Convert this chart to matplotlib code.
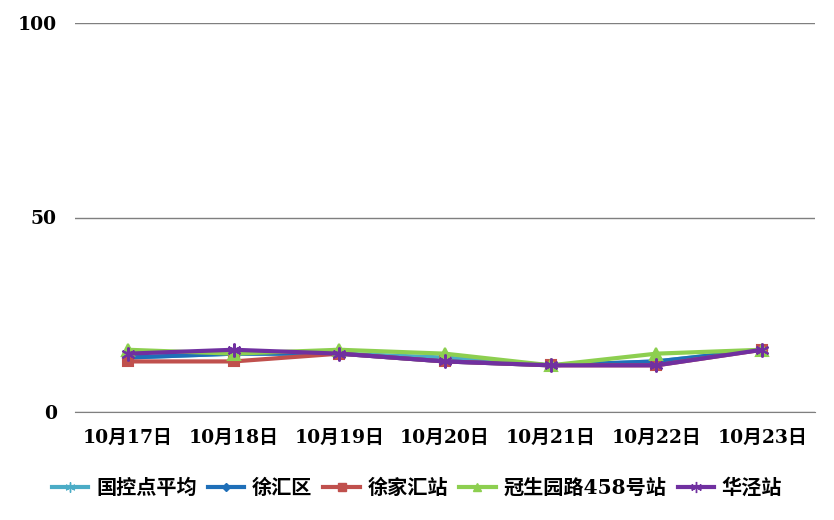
import matplotlib
matplotlib.use("Agg")
import matplotlib.pyplot as plt
from matplotlib.lines import Line2D

plt.rcParams['font.family'] = ['DejaVu Serif', 'Noto Sans CJK SC']
plt.rcParams['font.weight'] = 'bold'

dates = ["10月17日", "10月18日", "10月19日", "10月20日", "10月21日", "10月22日", "10月23日"]
guokong_avg = [14, 15, 15, 14, 12, 13, 16]
xuhui_qu = [14, 15, 15, 13, 12, 13, 16]
xujiahui = [13, 13, 15, 13, 12, 12, 16]
guanshengyuan = [16, 15, 16, 15, 12, 15, 16]
huajing = [15, 16, 15, 13, 12, 12, 16]

series = [
    ("国控点平均", guokong_avg, "#4BACC6", (6, 2, 0), 9),
    ("徐汇区", xuhui_qu, "#1F6FB8", "D", 5),
    ("徐家汇站", xujiahui, "#C0504D", "s", 7),
    ("冠生园路458号站", guanshengyuan, "#8DCF50", "^", 8),
    ("华泾站", huajing, "#7030A0", (6, 2, 0), 10),
]

fig = plt.figure(figsize=(8.34, 5.2), dpi=100)
ax = fig.add_axes([75 / 834, 1 - 412 / 520, 740 / 834, 389 / 520])

x = range(len(dates))
for name, vals, color, marker, ms in series:
    ax.plot(x, vals, color=color, lw=3, marker=marker, markersize=ms,
            markeredgewidth=1.5, markeredgecolor=color, label=name)

ax.set_xlim(-0.5, len(dates) - 0.5)
ax.set_ylim(0, 100)
ax.set_yticks([0, 50, 100])
ax.set_xticks(list(x))
ax.set_xticklabels(dates)
ax.yaxis.grid(True, color="#7f7f7f", lw=1)
ax.set_axisbelow(True)
for s in ["top", "right", "left"]:
    ax.spines[s].set_visible(False)
ax.spines["bottom"].set_color("#7f7f7f")
ax.tick_params(axis="both", length=0, labelsize=13.5)
ax.tick_params(axis="y", pad=13)
ax.tick_params(axis="x", pad=12)
for lbl in ax.get_xticklabels() + ax.get_yticklabels():
    lbl.set_fontweight("bold")

handles = [Line2D([0], [0], color=c, lw=3, marker=m, markersize=ms * 0.8,
                  markeredgecolor=c) for _, _, c, m, ms in series]
fig.legend(handles, [s[0] for s in series], loc="center", bbox_to_anchor=(0.5, 1 - 488 / 520),
           ncol=5, frameon=False, prop={"size": 14.5, "weight": "bold"},
           handlelength=1.8, handletextpad=0.4, columnspacing=0.55)

fig.savefig("out.png", dpi=100)
